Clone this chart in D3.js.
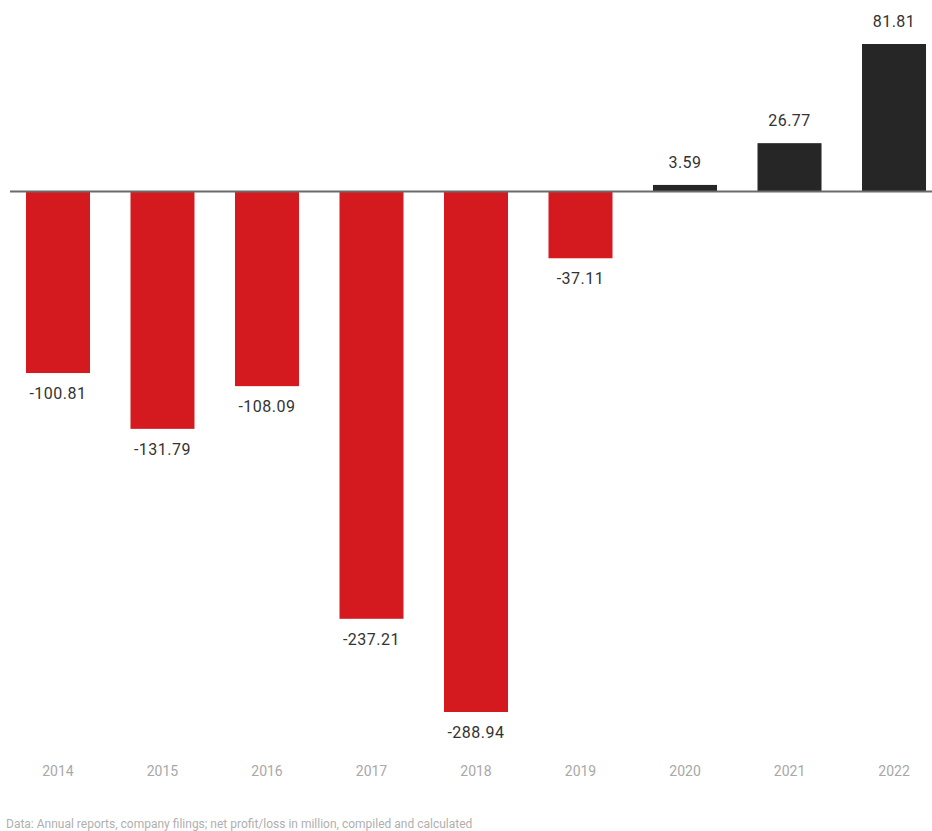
<!DOCTYPE html>
<html>
<head>
<meta charset="utf-8">
<script src="https://cdn.jsdelivr.net/npm/d3@7"></script>
<style>
  html, body { margin: 0; padding: 0; background: #fff; }
  svg { display: block; }
</style>
</head>
<body>
<svg id="chart" width="932" height="831"></svg>
<script>
const years = ["2014", "2015", "2016", "2017", "2018", "2019", "2020", "2021", "2022"];
const values = [-100.81, -131.79, -108.09, -237.21, -288.94, -37.11, 3.59, 26.77, 81.81];
const labels = ["-100.81", "-131.79", "-108.09", "-237.21", "-288.94", "-37.11", "3.59", "26.77", "81.81"];
const sourceText = "Data: Annual reports, company filings; net profit/loss in million, compiled and calculated";

const svg = d3.select("#chart");
const data = years.map((y, i) => ({ year: y, value: values[i], label: labels[i] }));

const x = d3.scaleBand()
  .domain(years)
  .range([10, 942])
  .paddingInner(0.3876)
  .paddingOuter(0.153);

const y = d3.scaleLinear()
  .domain([d3.min(values), d3.max(values)])
  .range([712, 44]);

svg.selectAll("rect.bar")
  .data(data)
  .join("rect")
  .attr("class", "bar")
  .attr("x", d => x(d.year))
  .attr("width", x.bandwidth())
  .attr("y", d => Math.min(y(d.value), y(0)))
  .attr("height", d => Math.abs(y(d.value) - y(0)))
  .attr("fill", d => d.value < 0 ? "#d41a1f" : "#262626");

svg.append("line")
  .attr("x1", 10).attr("x2", 932)
  .attr("y1", y(0)).attr("y2", y(0))
  .attr("stroke", "#6b6b6b")
  .attr("stroke-width", 2);

svg.selectAll("text.val")
  .data(data)
  .join("text")
  .attr("class", "val")
  .attr("x", d => x(d.year) + x.bandwidth() / 2)
  .attr("y", d => d.value < 0 ? y(d.value) + 26 : y(d.value) - 17)
  .attr("text-anchor", "middle")
  .attr("font-family", "Roboto, sans-serif")
  .attr("font-size", 16)
  .attr("letter-spacing", 0.5)
  .attr("fill", "#333")
  .text(d => d.label);

const xAxis = d3.axisBottom(x).tickSize(0).tickPadding(0);
const gx = svg.append("g")
  .attr("transform", "translate(0,766)")
  .call(xAxis);
gx.select(".domain").remove();
gx.selectAll("text")
  .attr("font-family", "Roboto, sans-serif")
  .attr("font-size", 14)
  .attr("fill", "#a8a8a8");

svg.append("text")
  .attr("x", 6)
  .attr("y", 828)
  .attr("font-family", "Roboto, sans-serif")
  .attr("font-size", 12)
  .attr("fill", "#b0b0b0")
  .text(sourceText);
</script>
</body>
</html>
